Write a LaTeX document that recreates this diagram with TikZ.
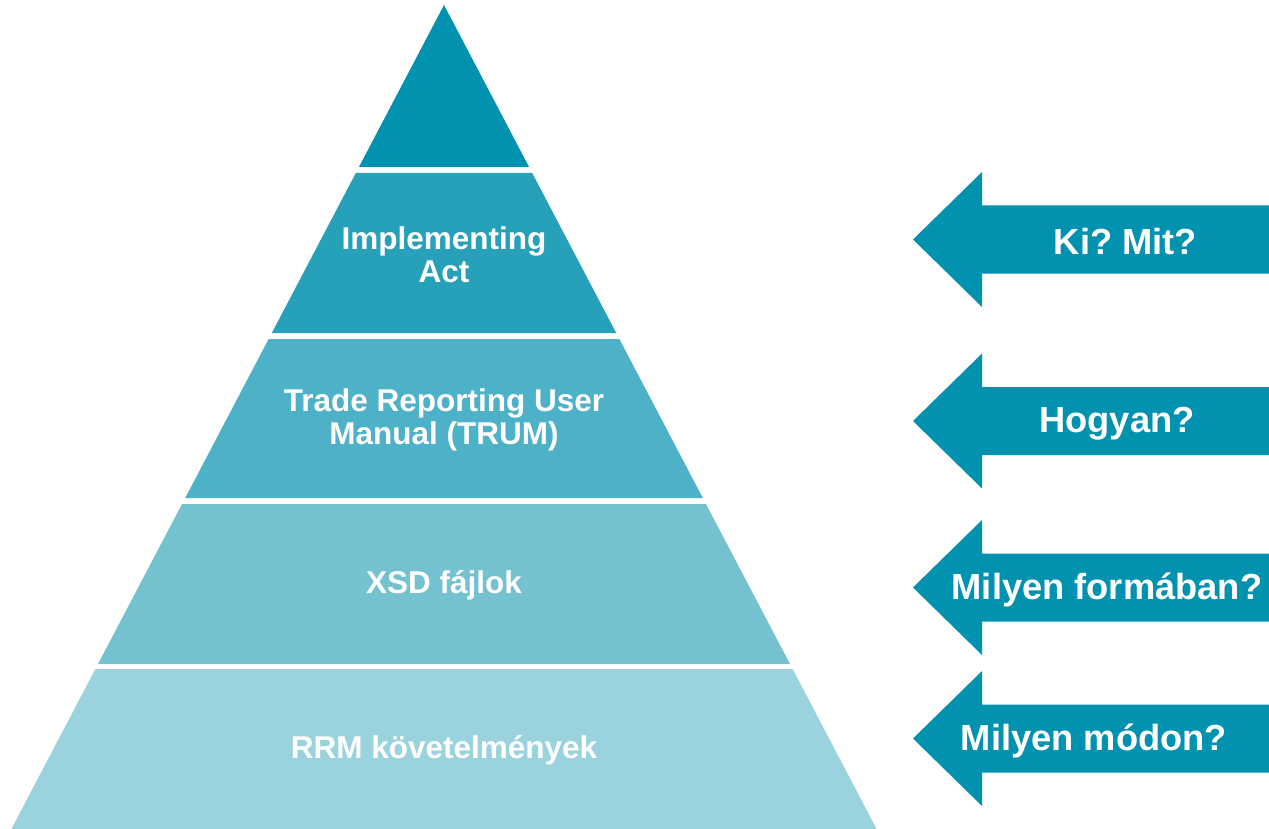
\documentclass[tikz,border=0pt]{standalone}
\usepackage{fontspec}
\setmainfont{Liberation Sans}
\frenchspacing
\definecolor{c1}{HTML}{0092AF}
\definecolor{c2}{HTML}{27A1BA}
\definecolor{c3}{HTML}{4DB1C7}
\definecolor{c4}{HTML}{74C1D0}
\definecolor{c5}{HTML}{9AD3DE}
\begin{document}
\begin{tikzpicture}[x=1pt,y=-1pt,
  ptext/.style={text=white,font=\fontsize{31.5}{33}\selectfont\bfseries,align=center,inner sep=0pt},
  atext/.style={text=white,font=\fontsize{36.3}{40}\selectfont\bfseries,inner sep=0pt},
  arrowshape/.style={fill=c1}]
\useasboundingbox (0,0) rectangle (1269,829);
% pyramid layers
\fill[c1] (444,5) -- (529.05,167) -- (358.95,167) -- cycle;
\fill[c2] (355.8,173) -- (532.2,173) -- (616.2,333) -- (271.8,333) -- cycle;
\fill[c3] (268.65,339) -- (619.35,339) -- (702.8,498) -- (185.2,498) -- cycle;
\fill[c4] (182,504) -- (706,504) -- (790,664) -- (98,664) -- cycle;
\fill[c5] (95.4,669) -- (792.6,669) -- (876.6,829) -- (11.4,829) -- cycle;
% layer labels
\node[ptext] (l2) at (444,255) {Implementing\\Act};
\node[ptext] (l3) at (444,420) {Trade Reporting User\\Manual (TRUM)};
\node[ptext] (l4) at (444,585) {XSD fájlok};
\node[ptext] (l5) at (444,750) {RRM követelmények};
% arrows
\foreach \c in {239.5,421,587.5,738.5}{
  \fill[arrowshape] (913,\c) -- (982,\c-67.5) -- (982,\c-34) -- (1269,\c-34)
    -- (1269,\c+34) -- (982,\c+34) -- (982,\c+67.5) -- cycle;
}
\node[atext] (a1) at (1125.5,242) {Ki? Mit?};
\node[atext] (a2) at (1117,424) {Hogyan?};
\node[atext] (a3) at (1107,590) {Milyen formában?};
\node[atext] (a4) at (1094,741) {Milyen módon?};
\end{tikzpicture}
\end{document}
